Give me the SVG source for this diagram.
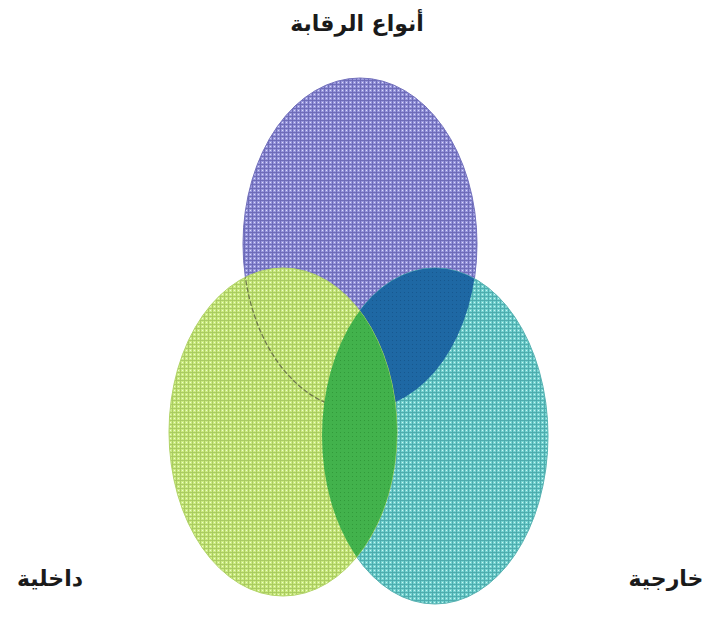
<svg xmlns="http://www.w3.org/2000/svg" width="710" height="617" viewBox="0 0 710 617">
<style>
.lbl{font-family:"DejaVu Sans","Noto Sans",sans-serif;font-weight:bold;font-size:22px;fill:#1a1a1a}
</style>
<defs>
<pattern id="pPurple" width="4" height="4" patternUnits="userSpaceOnUse">
<rect width="4" height="4" fill="#9796dc"/>
<rect x="0" y="0" width="4" height="1" fill="#6e6cb8"/>
<rect x="0" y="0" width="1" height="4" fill="#6e6cb8"/>
<rect x="2" y="2" width="1" height="1" fill="#dcdcf8"/>
</pattern>
<pattern id="pGreen" width="4" height="4" patternUnits="userSpaceOnUse">
<rect width="4" height="4" fill="#cbeb80"/>
<rect x="0" y="0" width="4" height="1" fill="#aacb62"/>
<rect x="0" y="0" width="1" height="4" fill="#aacb62"/>
<rect x="2" y="2" width="1" height="1" fill="#eefad0"/>
</pattern>
<pattern id="pTeal" width="4" height="4" patternUnits="userSpaceOnUse">
<rect width="4" height="4" fill="#74d3d0"/>
<rect x="0" y="0" width="4" height="1" fill="#4eacae"/>
<rect x="0" y="0" width="1" height="4" fill="#4eacae"/>
<rect x="2" y="2" width="1" height="1" fill="#cdf4f2"/>
</pattern>
<pattern id="pBlue" width="4" height="4" patternUnits="userSpaceOnUse">
<rect width="4" height="4" fill="#1e68a4"/>
<rect x="0" y="0" width="1" height="1" fill="#17588f"/>
</pattern>
<pattern id="pMid" width="4" height="4" patternUnits="userSpaceOnUse">
<rect width="4" height="4" fill="#42b24c"/>
<rect x="0" y="0" width="1" height="1" fill="#329a3a"/>
</pattern>
<clipPath id="cTeal"><ellipse cx="435" cy="436" rx="113" ry="168"/></clipPath>
<clipPath id="cGreen"><ellipse cx="283" cy="432" rx="114" ry="164"/></clipPath>
</defs>
<g id="purple">
<ellipse cx="360" cy="244" rx="117" ry="166" fill="url(#pPurple)" stroke="#7270bc" stroke-width="1"/>
</g>
<g id="teal">
<ellipse cx="435" cy="436" rx="113" ry="168" fill="url(#pTeal)" stroke="#58b2b2" stroke-width="1"/>
</g>
<g id="purple-teal">
<ellipse cx="360" cy="244" rx="117" ry="166" fill="url(#pBlue)" clip-path="url(#cTeal)"/>
</g>
<g id="green">
<ellipse cx="283" cy="432" rx="114" ry="164" fill="url(#pGreen)" stroke="#b2d468" stroke-width="1"/>
</g>
<g id="purple-outline">
<ellipse cx="360" cy="244" rx="117" ry="166" fill="none" stroke="#6f7a4a" stroke-width="1.3" stroke-dasharray="5 2" clip-path="url(#cGreen)"/>
</g>
<g id="green-teal">
<ellipse cx="283" cy="432" rx="114" ry="164" fill="url(#pMid)" clip-path="url(#cTeal)"/>
</g>
<g id="title"><text class="lbl" x="357" y="31" text-anchor="middle" direction="rtl">أنواع الرقابة</text></g>
<g id="label-internal"><text class="lbl" x="50" y="586" text-anchor="middle" direction="rtl">داخلية</text></g>
<g id="label-external"><text class="lbl" x="666" y="586" text-anchor="middle" direction="rtl">خارجية</text></g>
</svg>
